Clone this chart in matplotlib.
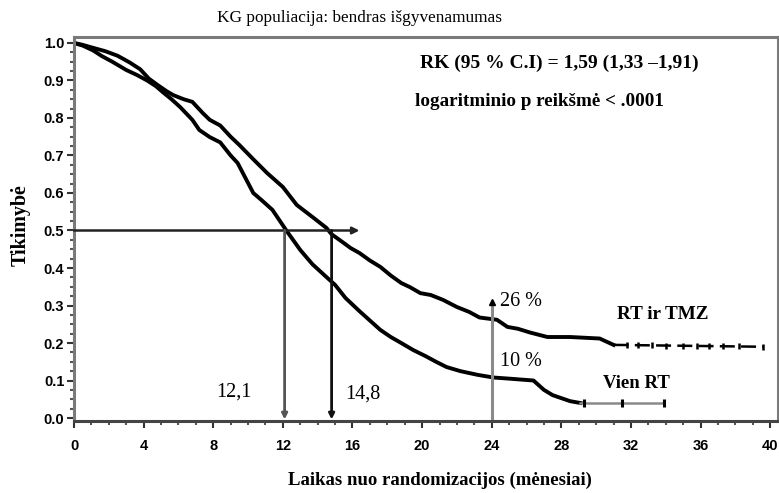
import matplotlib
matplotlib.use("Agg")
import matplotlib.pyplot as plt
import numpy as np

# Kaplan-Meier estimates (months, survival)
months_tmz = [0, 0.5, 1.1, 1.8, 2.5, 3.2, 3.8, 4.3, 4.8, 5.3, 5.7, 6.3, 6.8, 7.4, 7.8,
              8.4, 9.0, 9.5, 10.3, 11.1, 12.0, 12.8, 13.7, 14.5, 14.8, 15.4, 15.9, 16.4,
              17.0, 17.6, 18.2, 18.8, 19.3, 19.9, 20.5, 21.2, 22.0, 22.7, 23.3, 24.3,
              24.9, 25.5, 26.2, 27.2, 28.5, 30.2, 31.0, 39.6]
surv_tmz = [1.0, 0.995, 0.987, 0.978, 0.966, 0.948, 0.93, 0.905, 0.888, 0.872, 0.861, 0.85,
            0.843, 0.813, 0.795, 0.78, 0.75, 0.728, 0.69, 0.653, 0.616, 0.568, 0.536, 0.507,
            0.49, 0.47, 0.453, 0.44, 0.42, 0.403, 0.38, 0.36, 0.349, 0.333, 0.328, 0.315,
            0.296, 0.283, 0.268, 0.262, 0.243, 0.238, 0.228, 0.216, 0.216, 0.212, 0.195, 0.19]

months_rt = [0, 0.5, 1.1, 1.6, 2.2, 3.0, 3.6, 4.2, 4.7, 5.1, 5.6, 6.1, 6.8, 7.2, 7.8, 8.4,
             9.0, 9.4, 10.3, 10.8, 11.4, 12.2, 13.0, 13.7, 14.5, 15.0, 15.6, 16.4, 17.0,
             17.6, 18.2, 18.8, 19.5, 20.2, 20.8, 21.4, 22.2, 23.2, 24.1, 25.0, 26.4, 27.0,
             27.5, 28.5, 29.1, 33.9]
surv_rt = [1.0, 0.993, 0.98, 0.965, 0.95, 0.928, 0.915, 0.90, 0.885, 0.869, 0.85, 0.829,
           0.795, 0.768, 0.749, 0.735, 0.70, 0.68, 0.60, 0.58, 0.555, 0.50, 0.448, 0.41,
           0.376, 0.355, 0.32, 0.285, 0.26, 0.235, 0.216, 0.2, 0.181, 0.165, 0.15, 0.136,
           0.125, 0.115, 0.108, 0.105, 0.10, 0.075, 0.061, 0.045, 0.04, 0.04]

# censored observations on the flat tails
cens_tmz = [31.8, 32.4, 33.2, 34.0, 35.0, 35.8, 36.5, 37.3, 38.2, 39.6]
cens_rt = [29.3, 31.5, 33.9]

median_rt = 12.1
median_tmz = 14.8

x_ticks = np.arange(0, 41, 4)
y_ticks = np.arange(0, 1.01, 0.1)

serif = "Liberation Serif"
sans = "Liberation Sans"

fig = plt.figure(figsize=(7.79, 4.93), dpi=100)
ax = fig.add_axes([0.095, 0.146, 0.904, 0.779])

# curves (many tiny steps -> drawn as a jagged line)
tail_i = months_tmz.index(31.0)
ax.plot(months_tmz[:tail_i + 1], surv_tmz[:tail_i + 1], color="black", lw=2.8)
ax.plot(months_tmz[tail_i:], surv_tmz[tail_i:], color="black", lw=1.8, dashes=(6, 2.5))
ax.plot(cens_tmz, [np.interp(c, months_tmz, surv_tmz) for c in cens_tmz], "|",
        color="black", ms=5, mew=1.8)

tail_j = months_rt.index(29.1)
ax.plot(months_rt[:tail_j + 1], surv_rt[:tail_j + 1], color="black", lw=2.8)
ax.plot(months_rt[tail_j:], surv_rt[tail_j:], color="#8a8a8a", lw=1.8)
ax.plot(cens_rt, [surv_rt[-1]] * len(cens_rt), "|", color="black", ms=6, mew=2.2)

# median lines
ax.annotate("", xy=(16.4, 0.5), xytext=(0, 0.5),
            arrowprops=dict(arrowstyle="-|>", color="#222222", lw=1.8,
                            mutation_scale=10, shrinkA=0, shrinkB=0))
for m, col in [(median_rt, "#555555"), (median_tmz, "#111111")]:
    ax.annotate("", xy=(m, -0.004), xytext=(m, 0.5),
                arrowprops=dict(arrowstyle="-|>", color=col, lw=2.0,
                                mutation_scale=8, shrinkA=0, shrinkB=0))

# 24 month marker
ax.plot([24, 24], [0, 0.31], color="#8a8a8a", lw=2.2)
ax.plot([24], [0.31], marker="^", color="black", ms=4)

ax.text(9.2, 0.07, "12,1", fontsize=14.5, family=serif, ha="center", va="center")
ax.text(16.6, 0.065, "14,8", fontsize=14.5, family=serif, ha="center", va="center")
ax.text(24.45, 0.31, "26 %", fontsize=14.5, family=serif, ha="left", va="center")
ax.text(24.45, 0.15, "10 %", fontsize=14.5, family=serif, ha="left", va="center")
ax.text(33.85, 0.275, "RT ir TMZ", fontsize=13.8, family=serif, weight="bold",
        ha="center", va="center")
ax.text(32.3, 0.093, "Vien RT", fontsize=13.5, family=serif, weight="bold",
        ha="center", va="center")

ax.text(27.9, 0.945, "RK (95 % C.I) = 1,59 (1,33 \u20131,91)", fontsize=14,
        family=serif, weight="bold", ha="center", va="center")
ax.text(19.6, 0.845, "logaritminio p reikšmė < .0001", fontsize=13.8,
        family=serif, weight="bold", ha="left", va="center")

fig.text(0.462, 0.963, "KG populiacija: bendras išgyvenamumas", fontsize=12.4,
         family=serif, ha="center", va="center")
fig.text(0.565, 0.026, "Laikas nuo randomizacijos (mėnesiai)", fontsize=13.5,
         family=serif, weight="bold", ha="center", va="center")
fig.text(0.026, 0.544, "Tikimybė", fontsize=14.4, family=serif, weight="bold",
         rotation=90, ha="center", va="center")

# axes
ax.set_xlim(0, 40.46)
ax.set_ylim(-0.008, 1.016)
ax.set_xticks(x_ticks)
ax.set_xticks(np.arange(0, 41, 1), minor=True)
ax.set_yticks(y_ticks)
ax.set_yticklabels([f"{v:.1f}" for v in y_ticks])
ax.set_yticks(np.arange(0, 1.01, 0.025), minor=True)
ax.tick_params(which="major", direction="out", length=5, width=1.5, color="#333333",
               labelsize=10.5)
ax.tick_params(which="minor", direction="out", length=3, width=1.5, color="#555555")
ax.tick_params(axis="x", pad=8)
ax.tick_params(axis="y", pad=2)
for lab in ax.get_xticklabels() + ax.get_yticklabels():
    lab.set_family(sans)
    lab.set_fontweight("bold")

for side in ["top", "right", "left"]:
    ax.spines[side].set_color("#7a7a7a")
    ax.spines[side].set_linewidth(2.2)
ax.spines["bottom"].set_color("#444444")
ax.spines["bottom"].set_linewidth(2.2)

fig.savefig("out.png", dpi=100)
